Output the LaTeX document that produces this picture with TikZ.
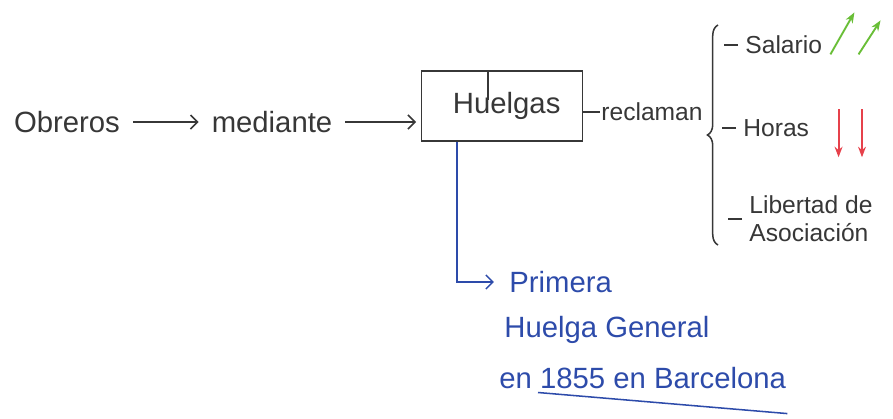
\documentclass[tikz,border=0pt]{standalone}
\usepackage{fontspec}
\setmainfont{Liberation Sans}
\usepackage{tikz}
\usetikzlibrary{arrows.meta, positioning, calc, decorations.pathreplacing}
\definecolor{mydark}{RGB}{55,55,55}
\definecolor{myblue}{RGB}{45,75,170}
\definecolor{mygreen}{RGB}{105,190,55}
\definecolor{myred}{RGB}{230,65,75}
\tikzset{
  hand/.style={font=\fontsize{25}{28}\selectfont, text=mydark, inner sep=1pt},
  smallhand/.style={font=\fontsize{21}{24}\selectfont, text=mydark, inner sep=1pt, anchor=west},
  bluehand/.style={font=\fontsize{25}{28}\selectfont, text=myblue, inner sep=1pt, anchor=west},
  box/.style={rectangle, draw=mydark, line width=1.3pt, minimum width=4.83cm,
    minimum height=2.1cm, font=\fontsize{25}{28}\selectfont, text=mydark},
  arrow/.style={-{Straight Barb[length=6pt]}, line width=1.3pt, color=mydark,
    shorten <=10pt, shorten >=10pt},
  line/.style={line width=1.3pt, color=mydark},
  bluearrow/.style={-{Straight Barb[length=6pt]}, line width=1.3pt, color=myblue},
  greenarrow/.style={-{Stealth[length=9pt]}, line width=1.6pt, color=mygreen},
  redarrow/.style={-{Stealth[length=9pt]}, line width=1.6pt, color=myred}
}
\begin{document}
\begin{tikzpicture}[x=0.03cm, y=-0.03cm]
  \useasboundingbox (0,0) rectangle (893,419);

  % --- Main chain ---
  \node[hand] (obreros) at (67,122) {Obreros};
  \node[hand] (mediante) at (272,122) {mediante};
  \node[box] (huelgas) at (502,106) {\hspace*{8pt}Huelgas};
  \draw[arrow] (obreros) -- (mediante);
  \draw[arrow, shorten >=4pt] (mediante) -- (mediante -| huelgas.west);
  \draw[line] ([xshift=-0.42cm]huelgas.north) -- ++(0,-0.9cm);

  % --- reclaman ---
  \node[smallhand] (reclaman) at (600,112) {reclaman};
  \draw[line] (huelgas.east |- reclaman.west) -- (reclaman.west);

  % Brace
  \draw[line, decorate, decoration={brace, amplitude=9pt}] (718,245) -- (718,25);

  % --- Demands ---
  \node[smallhand] (salario) at (744,45) {Salario};
  \node[smallhand] (horas) at (742,128) {Horas};
  \node[smallhand, align=left] (libertad) at (748,219) {Libertad de\\Asociación};
  \draw[line] ([xshift=-5pt]salario.west) -- ++(-14,0);
  \draw[line] ([xshift=-5pt]horas.west) -- ++(-14,0);
  \draw[line] ([xshift=-5pt]libertad.west) -- ++(-14,0);

  % Up / down marks
  \draw[greenarrow] ([xshift=6pt,yshift=-8pt]salario.east) -- ++(24,-42);
  \draw[greenarrow] ([xshift=30pt,yshift=-8pt]salario.east) -- ++(22,-34);
  \draw[redarrow] ([xshift=24pt,yshift=16pt]horas.east) -- ++(0,48);
  \draw[redarrow] ([xshift=44pt,yshift=16pt]horas.east) -- ++(0,48);

  % --- First general strike ---
  \node[bluehand] (primera) at (508,282) {Primera};
  \node[bluehand] (huelgagen) at (503,330) {Huelga General};
  \node[bluehand] (fecha) at (498,378) {en 1855 en Barcelona};
  \draw[bluearrow] ([xshift=-1.35cm]huelgas.south) |- ([xshift=-12pt]primera.west);
  \draw[line width=1.3pt, myblue] ([xshift=1.2cm,yshift=-2pt]fecha.south west) -- ([yshift=-20pt]fecha.south east);
\end{tikzpicture}
\end{document}
